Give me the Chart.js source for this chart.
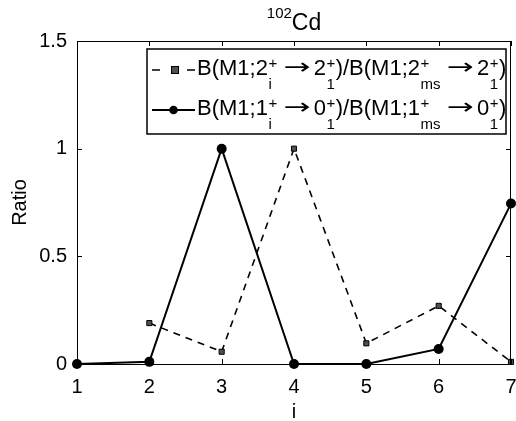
<!DOCTYPE html>
<html>
<head>
<meta charset="utf-8">
<script src="https://cdn.jsdelivr.net/npm/chart.js@4/dist/chart.umd.min.js"></script>
<style>
  html, body { margin: 0; padding: 0; background: #fff; }
  #wrap { width: 516px; height: 421px; position: relative; }
</style>
</head>
<body>
<div id="wrap"><canvas id="c" width="516" height="421"></canvas></div>
<script>
// ---- data ----
const iValues = [1, 2, 3, 4, 5, 6, 7];
const ratio2 = [null, 0.19, 0.057, 1.0, 0.096, 0.27, 0.01];   // B(M1;2+_i->2+_1)/B(M1;2+_ms->2+_1)
const ratio1 = [0.0, 0.01, 1.0, 0.0, 0.0, 0.07, 0.745];      // B(M1;1+_i->0+_1)/B(M1;1+_ms->0+_1)
const yTicks = [0, 0.5, 1, 1.5];
const xTitle = 'i';
const yTitle = 'Ratio';
const titleMain = 'Cd';
const titleSup = '102';
const legendRows = [
  ['B(M1;2', {sup: '+', sub: 'i'}, {arrow: true}, '2', {sup: '+', sub: '1'}, ')/B(M1;2', {sup: '+', sub: 'ms'}, {arrow: true}, '2', {sup: '+', sub: '1'}, ')'],
  ['B(M1;1', {sup: '+', sub: 'i'}, {arrow: true}, '0', {sup: '+', sub: '1'}, ')/B(M1;1', {sup: '+', sub: 'ms'}, {arrow: true}, '0', {sup: '+', sub: '1'}, ')']
];

const FONT = '"Liberation Sans", Arial, Helvetica, sans-serif';
const ARROW_FONT = '"DejaVu Sans", sans-serif';

function toXY(vals) {
  return iValues.map((x, k) => ({x: x, y: vals[k]}));
}

const framePlugin = {
  id: 'frame',
  afterDraw(chart) {
    const ctx = chart.ctx;
    const a = chart.chartArea;
    const xs = chart.scales.x, ys = chart.scales.y;
    ctx.save();
    // box
    ctx.strokeStyle = '#000';
    ctx.lineWidth = 1;
    ctx.strokeRect(Math.round(a.left) + 0.5, Math.round(a.top) + 0.5, Math.round(a.right - a.left) - 1, Math.round(a.bottom - a.top));
    // inward ticks
    const tl = 5;
    ctx.beginPath();
    xs.ticks.forEach(t => {
      const px = Math.round(xs.getPixelForValue(t.value)) + 0.5;
      ctx.moveTo(px, a.bottom); ctx.lineTo(px, a.bottom - tl);
      ctx.moveTo(px, a.top); ctx.lineTo(px, a.top + tl);
    });
    ys.ticks.forEach(t => {
      const py = Math.round(ys.getPixelForValue(t.value)) + 0.5;
      ctx.moveTo(a.left, py); ctx.lineTo(a.left + tl, py);
      ctx.moveTo(a.right, py); ctx.lineTo(a.right - tl, py);
    });
    ctx.stroke();

    // title with superscript
    ctx.fillStyle = '#000';
    ctx.textBaseline = 'alphabetic';
    ctx.textAlign = 'left';
    ctx.font = '15px ' + FONT;
    const wSup = ctx.measureText(titleSup).width;
    ctx.font = '23px ' + FONT;
    const wMain = ctx.measureText(titleMain).width;
    const cx = (a.left + a.right) / 2;
    const x0 = cx - (wSup + wMain) / 2;
    ctx.font = '15px ' + FONT;
    ctx.fillText(titleSup, x0, 18);
    ctx.font = '23px ' + FONT;
    ctx.fillText(titleMain, x0 + wSup, 30);

    // legend
    const L = {left: 147, top: 49, right: 506, bottom: 134};
    ctx.fillStyle = '#fff';
    ctx.fillRect(L.left, L.top, L.right - L.left, L.bottom - L.top);
    ctx.strokeStyle = '#000';
    ctx.lineWidth = 1.5;
    ctx.strokeRect(L.left, L.top, L.right - L.left, L.bottom - L.top);

    const rowsY = [75, 115];
    const ds = chart.data.datasets;
    rowsY.forEach((by, r) => {
      const d = ds[r];
      const ly = by - 5;
      ctx.save();
      ctx.strokeStyle = '#000';
      ctx.lineWidth = d.borderWidth;
      if (d.pointStyle === 'rect') {
        ctx.beginPath();
        ctx.moveTo(152, ly); ctx.lineTo(160, ly);
        ctx.moveTo(187, ly); ctx.lineTo(195, ly);
        ctx.stroke();
        ctx.fillStyle = d.pointBackgroundColor;
        ctx.fillRect(171.5, ly - 3.5, 7, 7);
        ctx.lineWidth = 1;
        ctx.strokeStyle = '#000';
        ctx.strokeRect(171.5, ly - 3.5, 7, 7);
      } else {
        ctx.beginPath();
        ctx.moveTo(152, ly); ctx.lineTo(195, ly);
        ctx.stroke();
        ctx.fillStyle = '#000';
        ctx.beginPath();
        ctx.arc(173.5, ly, 4.3, 0, Math.PI * 2);
        ctx.fill();
      }
      ctx.restore();

      // text
      let x = 197;
      ctx.fillStyle = '#000';
      legendRows[r].forEach(seg => {
        if (typeof seg === 'string') {
          ctx.font = '22px ' + FONT;
          ctx.fillText(seg, x, by);
          x += ctx.measureText(seg).width;
        } else if (seg.arrow) {
          ctx.font = '22px ' + ARROW_FONT;
          x += 6;
          const aw = ctx.measureText('\u2192').width;
          const targetW = 27;
          ctx.save();
          ctx.translate(x, by - 1);
          ctx.scale(targetW / aw, 1);
          ctx.fillText('\u2192', 0, 0);
          ctx.restore();
          x += targetW + 3;
        } else {
          ctx.font = '15px ' + FONT;
          ctx.fillText(seg.sup, x + 0.5, by - 7);
          ctx.fillText(seg.sub, x + 0.5, by + 14);
          const w = Math.max(ctx.measureText(seg.sup).width, ctx.measureText(seg.sub).width);
          x += w + 1;
        }
      });
    });
    ctx.restore();
  }
};

new Chart(document.getElementById('c'), {
  type: 'line',
  data: {
    datasets: [
      {
        label: 'B(M1;2+i -> 2+1)/B(M1;2+ms -> 2+1)',
        data: toXY(ratio2),
        borderColor: '#000',
        borderWidth: 1.6,
        borderDash: [7, 6],
        pointStyle: 'rect',
        pointRadius: 3.6,
        pointBackgroundColor: '#505050',
        pointBorderColor: '#000',
        pointBorderWidth: 1,
        spanGaps: false,
        tension: 0,
        fill: false,
        clip: false
      },
      {
        label: 'B(M1;1+i -> 0+1)/B(M1;1+ms -> 0+1)',
        data: toXY(ratio1),
        borderColor: '#000',
        borderWidth: 2,
        pointStyle: 'circle',
        pointRadius: 5,
        pointBackgroundColor: '#000',
        pointBorderColor: '#000',
        pointBorderWidth: 0,
        tension: 0,
        fill: false,
        clip: false
      }
    ]
  },
  options: {
    responsive: false,
    animation: false,
    events: [],
    layout: { padding: { top: 41, right: 4, bottom: 0, left: 0 } },
    plugins: { legend: { display: false }, title: { display: false }, tooltip: { enabled: false } },
    scales: {
      x: {
        type: 'linear',
        min: 1, max: 7,
        offset: false,
        grid: { display: false, drawTicks: false },
        border: { display: true, color: '#000', width: 1 },
        ticks: { stepSize: 1, color: '#000', padding: 11, font: { family: FONT, size: 20 } },
        title: { display: true, text: xTitle, color: '#000', padding: { top: 0, bottom: -3 }, font: { family: FONT, size: 20 } },
        afterFit(s) { s.height = 57; s.paddingLeft = 0; s.paddingRight = 0; }
      },
      y: {
        type: 'linear',
        min: 0, max: 1.5,
        grid: { display: false, drawTicks: false },
        border: { display: true, color: '#000', width: 1 },
        ticks: { stepSize: 0.5, color: '#000', padding: 10, font: { family: FONT, size: 20 },
                 callback: (v) => (yTicks.includes(v) ? String(v) : '') },
        title: { display: true, text: yTitle, color: '#000', padding: { top: 8, bottom: 0 }, font: { family: FONT, size: 20 } },
        afterFit(s) { s.width = 77; s.paddingTop = 0; s.paddingBottom = 0; }
      }
    }
  },
  plugins: [framePlugin]
});
</script>
</body>
</html>
